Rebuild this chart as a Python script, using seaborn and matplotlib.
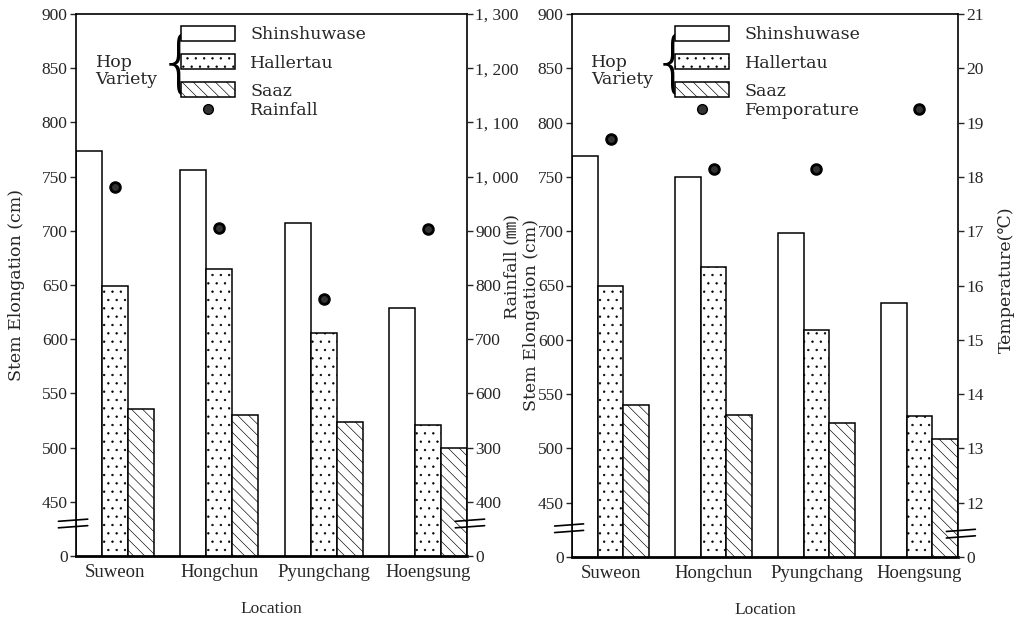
import matplotlib
matplotlib.use("Agg")
import matplotlib.pyplot as plt
import seaborn as sns
import pandas as pd
from matplotlib.patches import Patch
from matplotlib.lines import Line2D

# ---------------- data ----------------
locations = ["Suweon", "Hongchun", "Pyungchang", "Hoengsung"]
varieties = ["Shinshuwase", "Hallertau", "Saaz"]

# left panel (with rainfall)
shin_left = [774, 756, 707, 629]
hall_left = [649, 665, 606, 521]
saaz_left = [536, 530, 524, 500]
rainfall = [980, 905, 775, 904]

# right panel (with temperature)
shin_right = [769, 750, 698, 634]
hall_right = [650, 667, 609, 530]
saaz_right = [540, 531, 523, 509]
temperature = [18.7, 18.15, 18.15, 19.25]

# axis ticks (broken axes: lowest tick stands for 0)
stem_ticks = [400, 450, 500, 550, 600, 650, 700, 750, 800, 850, 900]
stem_labels = ["0", "450", "500", "550", "600", "650", "700", "750", "800", "850", "900"]
rain_ticks = [300, 400, 500, 600, 700, 800, 900, 1000, 1100, 1200, 1300]
rain_labels = ["0", "400", "300", "600", "700", "800", "900", "1, 000", "1, 100", "1, 200", "1, 300"]
temp_ticks = [11, 12, 13, 14, 15, 16, 17, 18, 19, 20, 21]
temp_labels = ["0", "12", "13", "14", "15", "16", "17", "18", "19", "20", "21"]

# ---------------- style ----------------
sns.set_theme(style="white")
FONT = ["Liberation Serif", "Noto Sans CJK JP", "DejaVu Sans"]
WIDE = ["DejaVu Serif", "Noto Sans CJK JP", "DejaVu Sans"]
plt.rcParams["font.family"] = FONT
plt.rcParams["hatch.linewidth"] = 0.45
plt.rcParams["hatch.color"] = "black"
FS = 12.5

fig = plt.figure(figsize=(10.19, 6.28), dpi=100)
ax1 = fig.add_axes([76 / 1019, 72 / 628, 391 / 1019, 542 / 628])
ax2 = fig.add_axes([572 / 1019, 71 / 628, 386 / 1019, 543 / 628])

hatches = ["", "..", "\\\\\\"]


def long_df(a, b, c):
    rows = []
    for v, vals in zip(varieties, [a, b, c]):
        for loc, val in zip(locations, vals):
            rows.append({"Location": loc, "Variety": v, "Stem": val})
    return pd.DataFrame(rows)


def draw_panel(ax, df, sec_vals, sec_ticks, sec_labels, sec_lim, sec_label,
               sec_legend_label, sec_label_xy, stem_label_xy, breaks_left_y,
               breaks_right_y):
    sns.barplot(data=df, x="Location", y="Stem", hue="Variety",
                hue_order=varieties, order=locations,
                palette=["white"] * 3, edgecolor="black", linewidth=1.1,
                width=0.75, saturation=1, ax=ax, legend=False)
    for cont, h in zip(ax.containers, hatches):
        for p in cont:
            p.set_hatch(h)
            p.set_facecolor("white")
            p.set_edgecolor("black")
    ax.set_ylim(400, 900)
    ax.set_yticks(stem_ticks)
    ax.set_yticklabels(stem_labels, fontsize=FS)
    ax.set_xlim(-0.375, 3.375)
    ax.set_xticks(range(len(locations)))
    ax.set_xticklabels(locations, fontsize=FS + 1)
    ax.tick_params(axis="x", length=0, pad=6)
    ax.tick_params(axis="y", direction="out", length=4, width=1, pad=2, left=True)
    ax.set_xlabel("Location", fontsize=FS, labelpad=14)
    ax.set_ylabel("Stem Elongation (cm)", fontsize=FS, family=WIDE)
    ax.yaxis.set_label_coords(*stem_label_xy)
    for s in ax.spines.values():
        s.set_color("black")
        s.set_linewidth(1.2)
    ax.spines["bottom"].set_linewidth(2)

    axr = ax.twinx()
    sns.pointplot(x=locations, y=sec_vals, ax=axr, color="black", markers="o",
                  linestyle="none", errorbar=None, markersize=7,
                  markeredgecolor="black", markerfacecolor="#333333")
    axr.set_ylim(*sec_lim)
    axr.set_yticks(sec_ticks)
    axr.set_yticklabels(sec_labels, fontsize=FS)
    axr.tick_params(axis="y", direction="out", length=4, width=1, pad=2, right=True)
    axr.set_xlim(-0.375, 3.375)
    axr.set_ylabel(sec_label, fontsize=FS, rotation=90, family=WIDE)
    axr.yaxis.set_label_coords(*sec_label_xy)
    for s in axr.spines.values():
        s.set_visible(False)

    # legends
    handles = [Patch(facecolor="white", edgecolor="black", hatch=h, linewidth=1.1)
               for h in hatches]
    leg1 = axr.legend(handles, varieties, loc="upper left",
                      bbox_to_anchor=(0.268, 0.978), frameon=False,
                      prop={"family": WIDE, "size": FS},
                      handlelength=3.1, handleheight=0.95,
                      labelspacing=0.62, handletextpad=0.9, borderpad=0,
                      borderaxespad=0)
    axr.add_artist(leg1)
    mk = Line2D([], [], linestyle="none", marker="o", markersize=7,
                color="black", markerfacecolor="#333333")
    axr.legend([mk], [sec_legend_label], loc="upper left",
               bbox_to_anchor=(0.268, 0.838), frameon=False,
               prop={"family": WIDE, "size": FS},
               handlelength=3.1, handletextpad=0.9, borderpad=0,
               borderaxespad=0)
    ax.text(0.05, 0.895, "Hop\nVariety", transform=ax.transAxes,
            fontsize=FS, ha="left", va="center", linespacing=1.0,
            family=WIDE)
    ax.text(0.262, 0.905, "{", transform=ax.transAxes, fontsize=48,
            ha="center", va="center", family=["DejaVu Sans"],
            fontweight="light", color="black")

    # axis break marks
    for xs, ys in ((-0.045, breaks_left_y), (1.0 - 0.03, breaks_right_y)):
        for dy in (0.0, 0.012):
            ax.plot([xs, xs + 0.075], [ys + dy, ys + dy + 0.004],
                    transform=ax.transAxes, color="black", lw=1.2,
                    clip_on=False)
    return axr


df_left = long_df(shin_left, hall_left, saaz_left)
df_right = long_df(shin_right, hall_right, saaz_right)

draw_panel(ax1, df_left, rainfall, rain_ticks, rain_labels, (300, 1300),
           "Rainfall (㎜)", "Rainfall", (1.092, 0.535), (-0.13, 0.5),
           0.052, 0.052)
draw_panel(ax2, df_right, temperature, temp_ticks, temp_labels, (11, 21),
           "Temperature(℃)", "Femporature", (1.104, 0.51), (-0.083, 0.446),
           0.045, 0.035)

fig.savefig("out.png", dpi=100)
